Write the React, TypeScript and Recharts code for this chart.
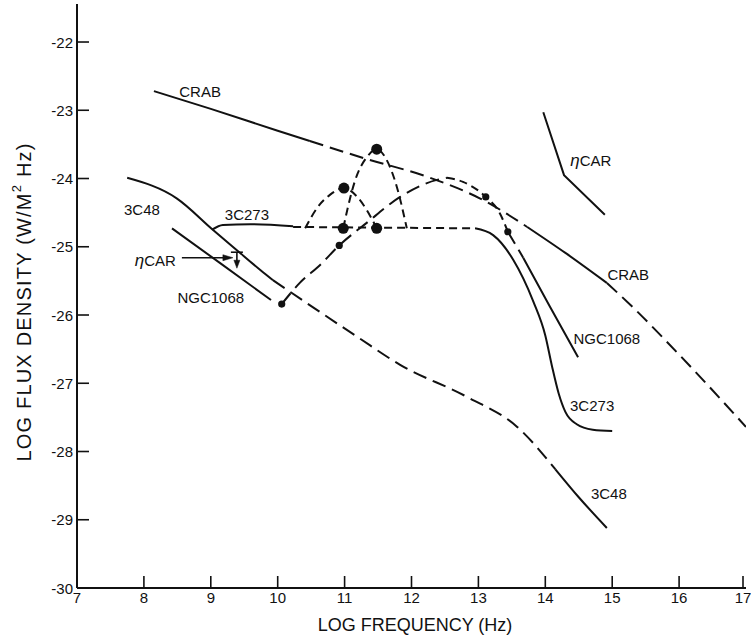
import React from 'react';
import { ComposedChart, Line, Scatter, XAxis, YAxis } from 'recharts';

type P = { x: number; y: number };
type L = { x: number; y: number; text: string };

const xTicks = [7, 8, 9, 10, 11, 12, 13, 14, 15, 16, 17];
const yTicks = [-30, -29, -28, -27, -26, -25, -24, -23, -22];

// CRAB
const crabSolidLow: P[] = [
  { x: 8.15, y: -22.72 }, { x: 9.0, y: -22.98 }, { x: 10.0, y: -23.3 }, { x: 10.48, y: -23.45 },
];
const crabDashMid: P[] = [
  { x: 10.48, y: -23.45 }, { x: 11.28, y: -23.7 }, { x: 12.28, y: -23.99 }, { x: 13.02, y: -24.29 }, { x: 13.73, y: -24.71 },
];
const crabSolidHigh: P[] = [
  { x: 13.73, y: -24.71 }, { x: 14.3, y: -25.09 }, { x: 14.92, y: -25.53 },
];
const crabDashEnd: P[] = [
  { x: 14.92, y: -25.53 }, { x: 15.27, y: -25.85 }, { x: 16.01, y: -26.59 }, { x: 17.0, y: -27.64 },
];

// 3C48
const c48SolidLow: P[] = [
  { x: 7.75, y: -23.99 }, { x: 8.49, y: -24.29 }, { x: 9.03, y: -24.75 }, { x: 9.39, y: -25.05 }, { x: 9.74, y: -25.34 }, { x: 9.93, y: -25.49 },
];
const c48DashMid: P[] = [
  { x: 9.93, y: -25.49 }, { x: 10.14, y: -25.63 }, { x: 11.19, y: -26.32 }, { x: 11.83, y: -26.73 }, { x: 12.83, y: -27.2 }, { x: 13.58, y: -27.64 }, { x: 14.15, y: -28.26 },
];
const c48SolidHigh: P[] = [
  { x: 14.15, y: -28.26 }, { x: 14.5, y: -28.67 }, { x: 14.92, y: -29.12 },
];

// NGC1068
const ngcSolidLow: P[] = [
  { x: 8.42, y: -24.73 }, { x: 9.14, y: -25.24 }, { x: 9.9, y: -25.78 },
];
const ngcDashRise: P[] = [
  { x: 10.06, y: -25.84 }, { x: 10.33, y: -25.53 }, { x: 10.63, y: -25.27 }, { x: 10.92, y: -24.98 }, { x: 11.33, y: -24.65 }, { x: 11.83, y: -24.27 }, { x: 12.38, y: -24.02 }, { x: 12.53, y: -23.99 },
];
const ngcDashPeak: P[] = [
  { x: 12.53, y: -23.99 }, { x: 12.77, y: -24.05 }, { x: 13.11, y: -24.27 }, { x: 13.32, y: -24.51 }, { x: 13.44, y: -24.78 },
];
const ngcDashFall: P[] = [
  { x: 13.44, y: -24.78 }, { x: 13.67, y: -25.16 },
];
const ngcSolidHigh: P[] = [
  { x: 13.67, y: -25.16 }, { x: 14.07, y: -25.88 }, { x: 14.49, y: -26.62 },
];

// 3C273
const c273SolidLow: P[] = [
  { x: 9.02, y: -24.75 }, { x: 9.18, y: -24.68 }, { x: 9.59, y: -24.67 }, { x: 10.23, y: -24.7 },
];
const c273DashFlat: P[] = [
  { x: 10.23, y: -24.71 }, { x: 12.95, y: -24.73 },
];
const c273SolidHigh: P[] = [
  { x: 12.95, y: -24.73 }, { x: 13.22, y: -24.83 }, { x: 13.52, y: -25.19 }, { x: 13.82, y: -25.8 }, { x: 14.0, y: -26.3 }, { x: 14.1, y: -26.75 }, { x: 14.2, y: -27.15 }, { x: 14.3, y: -27.42 }, { x: 14.47, y: -27.6 }, { x: 14.71, y: -27.68 }, { x: 15.0, y: -27.7 },
];
const c273SmallArc: P[] = [
  { x: 10.41, y: -24.73 }, { x: 10.59, y: -24.43 }, { x: 10.78, y: -24.24 }, { x: 10.99, y: -24.14 }, { x: 11.19, y: -24.27 }, { x: 11.33, y: -24.46 }, { x: 11.48, y: -24.73 },
];
const c273TallArc: P[] = [
  { x: 10.98, y: -24.73 }, { x: 11.04, y: -24.46 }, { x: 11.16, y: -24.02 }, { x: 11.33, y: -23.69 }, { x: 11.48, y: -23.57 }, { x: 11.63, y: -23.73 }, { x: 11.78, y: -24.12 }, { x: 11.93, y: -24.73 },
];

// eta CAR
const etaCarLine: P[] = [
  { x: 13.97, y: -23.03 }, { x: 14.28, y: -23.95 }, { x: 14.89, y: -24.53 },
];
const etaCarLimit: P[] = [{ x: 9.39, y: -25.08 }];

// measured points
const bigDots: P[] = [
  { x: 10.99, y: -24.14 }, { x: 10.98, y: -24.73 }, { x: 11.48, y: -24.73 }, { x: 11.48, y: -23.57 },
];
const smallDots: P[] = [
  { x: 10.06, y: -25.84 }, { x: 10.92, y: -24.98 }, { x: 13.11, y: -24.27 }, { x: 13.44, y: -24.78 },
];

const labels: L[] = [
  { x: 8.84, y: -22.73, text: 'CRAB' },
  { x: 7.97, y: -24.46, text: '3C48' },
  { x: 9.54, y: -24.53, text: '3C273' },
  { x: 8.17, y: -25.19, text: 'ηCAR' },
  { x: 9.0, y: -25.74, text: 'NGC1068' },
  { x: 14.68, y: -23.73, text: 'ηCAR' },
  { x: 15.24, y: -25.4, text: 'CRAB' },
  { x: 14.92, y: -26.34, text: 'NGC1068' },
  { x: 14.7, y: -27.32, text: '3C273' },
  { x: 14.95, y: -28.61, text: '3C48' },
];

const INK = '#111';
const FONT = '"Liberation Sans", Arial, Helvetica, sans-serif';
const LONG = '14 7';
const SHORT = '8 5';
const TICK_LEN = 12;

// fixed frame geometry (chart 751x638, margins below)
const W = 751;
const H = 638;
const M = { top: 4, right: 5, bottom: 0, left: 0 };
const Y_AXIS_W = 77;
const X_AXIS_H = 50;
const PLOT_LEFT = M.left + Y_AXIS_W;
const PLOT_RIGHT = W - M.right;
const PLOT_BOTTOM = H - M.bottom - X_AXIS_H;

type Seg = { data: P[]; dash?: string; curve: 'monotone' | 'linear' };
const segments: Seg[] = [
  { data: crabSolidLow, curve: 'monotone' },
  { data: crabDashMid, dash: LONG, curve: 'monotone' },
  { data: crabSolidHigh, curve: 'monotone' },
  { data: crabDashEnd, dash: LONG, curve: 'monotone' },
  { data: c48SolidLow, curve: 'monotone' },
  { data: c48DashMid, dash: LONG, curve: 'monotone' },
  { data: c48SolidHigh, curve: 'monotone' },
  { data: ngcSolidLow, curve: 'monotone' },
  { data: ngcDashRise, dash: LONG, curve: 'monotone' },
  { data: ngcDashPeak, dash: SHORT, curve: 'monotone' },
  { data: ngcDashFall, dash: LONG, curve: 'monotone' },
  { data: ngcSolidHigh, curve: 'monotone' },
  { data: c273SolidLow, curve: 'monotone' },
  { data: c273DashFlat, dash: SHORT, curve: 'linear' },
  { data: c273SolidHigh, curve: 'monotone' },
  { data: c273SmallArc, dash: SHORT, curve: 'monotone' },
  { data: c273TallArc, dash: SHORT, curve: 'monotone' },
  { data: etaCarLine, curve: 'linear' },
];

const BigDot = (p: any) => <circle cx={p.cx} cy={p.cy} r={5.5} fill={INK} />;
const SmallDot = (p: any) => <circle cx={p.cx} cy={p.cy} r={3.6} fill={INK} />;

const TextMark = (p: any) => {
  const t: string = p.payload.text;
  const eta = t.startsWith('η');
  return (
    <text x={p.cx} y={p.cy} textAnchor="middle" dominantBaseline="central" fontSize={15} fontFamily={FONT} fill={INK}>
      {eta ? (
        <>
          <tspan fontStyle="italic" fontSize={17}>η</tspan>
          <tspan>{t.slice(1)}</tspan>
        </>
      ) : t}
    </text>
  );
};

const LimitMark = (p: any) => {
  const { cx, cy } = p;
  return (
    <g stroke={INK} strokeWidth={1.6} fill={INK}>
      <line x1={cx - 55} y1={cy + 5.5} x2={cx - 12} y2={cy + 5.5} />
      <polygon points={`${cx - 4},${cy + 5.5} ${cx - 14},${cy + 2.5} ${cx - 14},${cy + 8.5}`} strokeWidth={0.5} />
      <line x1={cx - 6} y1={cy} x2={cx + 6} y2={cy} />
      <line x1={cx} y1={cy} x2={cx} y2={cy + 9} />
      <polygon points={`${cx - 3},${cy + 8} ${cx + 3},${cy + 8} ${cx},${cy + 16}`} strokeWidth={0.5} />
    </g>
  );
};

// inward tick marks, labels outside the frame
const LeftTick = (p: any) => {
  const { y, payload } = p;
  return (
    <g>
      <line x1={PLOT_LEFT} y1={y} x2={PLOT_LEFT + TICK_LEN} y2={y} stroke={INK} strokeWidth={1.6} />
      <text x={PLOT_LEFT - 4} y={y} textAnchor="end" dominantBaseline="central" fontSize={15} fontFamily={FONT} fill={INK}>
        {payload.value}
      </text>
    </g>
  );
};

const BottomTick = (p: any) => {
  const { x, payload } = p;
  return (
    <g>
      <line x1={x} y1={PLOT_BOTTOM} x2={x} y2={PLOT_BOTTOM - TICK_LEN} stroke={INK} strokeWidth={1.6} />
      <text x={x} y={PLOT_BOTTOM + 4} textAnchor="middle" dominantBaseline="hanging" fontSize={15} fontFamily={FONT} fill={INK}>
        {payload.value}
      </text>
    </g>
  );
};

const RightTick = (p: any) => {
  const { y } = p;
  return <line x1={PLOT_RIGHT} y1={y} x2={PLOT_RIGHT - TICK_LEN} y2={y} stroke={INK} strokeWidth={1.6} />;
};

const YLabel = () => {
  const cx = 24;
  const cy = 302;
  return (
    <text
      x={cx}
      y={cy}
      transform={`rotate(-90 ${cx} ${cy})`}
      textAnchor="middle"
      dominantBaseline="central"
      fontSize={20}
      letterSpacing={1.2}
      fontFamily={FONT}
      fill={INK}
    >
      <tspan>LOG FLUX DENSITY (W/M</tspan>
      <tspan dy={-8} fontSize={13}>2</tspan>
      <tspan dy={8}> Hz)</tspan>
    </text>
  );
};

const XLabel = () => (
  <text x={415} y={625} textAnchor="middle" dominantBaseline="central" fontSize={18} fontFamily={FONT} fill={INK}>
    LOG FREQUENCY (Hz)
  </text>
);

export default function App() {
  return (
    <div style={{ position: 'absolute', left: 0, top: 0, width: W, height: H, background: '#fff' }}>
      <ComposedChart width={W} height={H} margin={M}>
        <XAxis
          xAxisId={0}
          type="number"
          dataKey="x"
          domain={[7, 17]}
          ticks={xTicks}
          allowDataOverflow
          height={X_AXIS_H}
          tick={<BottomTick />}
          tickLine={false}
          axisLine={{ stroke: INK, strokeWidth: 2 }}
          label={<XLabel />}
        />
        <XAxis
          xAxisId="top"
          orientation="top"
          type="number"
          dataKey="x"
          domain={[7, 17]}
          allowDataOverflow
          height={0}
          tick={false}
          tickLine={false}
          axisLine={{ stroke: INK, strokeWidth: 2 }}
        />
        <YAxis
          yAxisId={0}
          type="number"
          dataKey="y"
          domain={[-30, -21.443]}
          ticks={yTicks}
          allowDataOverflow
          width={Y_AXIS_W}
          tick={<LeftTick />}
          tickLine={false}
          axisLine={{ stroke: INK, strokeWidth: 2 }}
          label={<YLabel />}
        />
        <YAxis
          yAxisId="right"
          orientation="right"
          type="number"
          dataKey="y"
          domain={[-30, -21.443]}
          ticks={yTicks}
          allowDataOverflow
          width={0}
          tick={<RightTick />}
          tickLine={false}
          axisLine={{ stroke: INK, strokeWidth: 2 }}
        />
        {segments.map((s, i) => (
          <Line
            key={`seg-${i}`}
            data={s.data}
            dataKey="y"
            type={s.curve}
            stroke={INK}
            strokeWidth={2}
            strokeDasharray={s.dash}
            dot={false}
            activeDot={false}
            isAnimationActive={false}
            legendType="none"
          />
        ))}
        <Scatter data={bigDots} dataKey="y" shape={BigDot} isAnimationActive={false} />
        <Scatter data={smallDots} dataKey="y" shape={SmallDot} isAnimationActive={false} />
        <Scatter data={etaCarLimit} dataKey="y" shape={LimitMark} isAnimationActive={false} />
        <Scatter data={labels} dataKey="y" shape={TextMark} isAnimationActive={false} />
      </ComposedChart>
    </div>
  );
}
